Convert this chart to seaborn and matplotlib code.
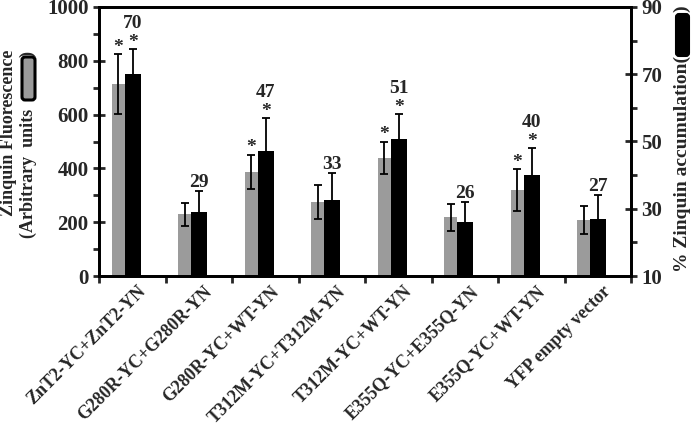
import numpy as np
import pandas as pd
import matplotlib
matplotlib.use("Agg")
import matplotlib.pyplot as plt
import seaborn as sns
from matplotlib.patches import FancyBboxPatch
from matplotlib.ticker import MultipleLocator
from matplotlib.transforms import IdentityTransform, ScaledTranslation

categories = ["ZnT2-YC+ZnT2-YN", "G280R-YC+G280R-YN", "G280R-YC+WT-YN",
              "T312M-YC+T312M-YN", "T312M-YC+WT-YN", "E355Q-YC+E355Q-YN",
              "E355Q-YC+WT-YN", "YFP empty vector"]
fluor = [714, 230, 387, 275, 439, 219, 320, 208]
fluor_err = [110, 43, 63, 63, 61, 50, 77, 52]
accum = [70.1, 29.0, 47.2, 32.6, 50.7, 26.1, 40.0, 27.0]
accum_err = [7.4, 6.3, 9.8, 8.0, 7.5, 5.9, 8.1, 7.1]
accum_labels = ["70", "29", "47", "33", "51", "26", "40", "27"]
star_gray = [True, False, True, False, True, False, True, False]
star_black = [True, False, True, False, True, False, True, False]

sns.set_style("white")
plt.rcParams['font.family'] = ['Liberation Serif', 'DejaVu Serif']
plt.rcParams['font.weight'] = 'bold'

W, H = 693, 426
fig = plt.figure(figsize=(W / 100, H / 100), dpi=100)
ax1 = fig.add_axes([99 / W, 1 - 276 / H, (631 - 99) / W, (276 - 7) / H])
ax2 = ax1.twinx()

df = pd.DataFrame({"cat": categories, "fluor": fluor, "accum": accum})

GRAY = "#9b9b9b"
sns.barplot(data=df, x="cat", y="fluor", color=GRAY, ax=ax1, width=0.2,
            saturation=1, errorbar=None)
sns.barplot(data=df, x="cat", y="accum", color="black", ax=ax2, width=0.24,
            saturation=1, errorbar=None)

gw, bw = 0.2, 0.24
goff, boff = -0.21, 0.007
for p in ax1.patches:
    c = p.get_x() + p.get_width() / 2
    p.set_width(gw)
    p.set_x(c + goff - gw / 2)
    p.set_edgecolor("none")
for p in ax2.patches:
    c = p.get_x() + p.get_width() / 2
    p.set_width(bw)
    p.set_x(c + boff - bw / 2)
    p.set_edgecolor("none")

xs = np.arange(len(categories))
ax1.errorbar(xs + goff, fluor, yerr=fluor_err, fmt="none", ecolor="black",
             elinewidth=1.3, capsize=2.8, capthick=1.3, zorder=5)
ax2.errorbar(xs + boff, accum, yerr=accum_err, fmt="none", ecolor="black",
             elinewidth=1.3, capsize=2.8, capthick=1.3, zorder=5)

ax1.set_ylim(0, 1000)
ax2.set_ylim(10, 90)
ax1.set_xlim(-0.5, 7.5)

# annotations
for i in range(len(categories)):
    top_b = accum[i] + accum_err[i]
    if star_black[i]:
        ax2.annotate("*", (xs[i] + boff, top_b), xytext=(0, -1.5), textcoords="offset points",
                     ha="center", va="bottom", fontsize=14, fontweight="bold")
        ax2.annotate(accum_labels[i], (xs[i] + boff, top_b), xytext=(0, 12),
                     textcoords="offset points", ha="center", va="bottom",
                     fontsize=14, fontweight="bold")
    else:
        ax2.annotate(accum_labels[i], (xs[i] + boff, top_b), xytext=(0, 0),
                     textcoords="offset points", ha="center", va="bottom",
                     fontsize=14, fontweight="bold")
    if star_gray[i]:
        top_g = fluor[i] + fluor_err[i]
        ax1.annotate("*", (xs[i] + goff, top_g), xytext=(0, -1), textcoords="offset points",
                     ha="center", va="bottom", fontsize=14, fontweight="bold")

# axes styling
for ax in (ax1, ax2):
    for s in ax.spines.values():
        s.set_linewidth(2)
        s.set_color("black")
    ax.set_xlabel("")
    ax.set_ylabel("")
    ax.grid(False)

ax1.yaxis.set_major_locator(MultipleLocator(200))
ax1.yaxis.set_minor_locator(MultipleLocator(100))
ax2.set_yticks([10, 30, 50, 70, 90])
ax2.set_yticks([20, 40, 60, 80], minor=True)

ax1.tick_params(axis="y", which="major", direction="inout", length=9, width=2,
                labelsize=15, pad=3)
ax1.tick_params(axis="y", which="minor", direction="out", length=4.5, width=2, left=True)
ax2.tick_params(axis="y", which="major", direction="inout", length=9, width=2,
                labelsize=15, pad=3)
ax2.tick_params(axis="y", which="minor", direction="out", length=4.5, width=2, right=True)

ax1.set_xticks(xs)
ax1.set_xticklabels(categories, rotation=45, ha="right", rotation_mode="anchor",
                    fontsize=13, fontweight="bold")
ax1.tick_params(axis="x", which="major", length=0, pad=5)
shift = ScaledTranslation(3.5 / 72, 0, fig.dpi_scale_trans)
for lab in ax1.get_xticklabels():
    lab.set_transform(lab.get_transform() + shift)
ax1.set_xticks(np.arange(-0.5, 8, 1), minor=True)
ax1.tick_params(axis="x", which="minor", direction="out", length=5, width=2, bottom=True)
for lab in ax1.get_yticklabels() + ax2.get_yticklabels():
    lab.set_fontweight("bold")
ax2.xaxis.set_visible(False)

# left label with embedded legend box
def fy(py):
    return 1 - py / H

fig.text(9 / W, fy(133), "Zinquin Fluorescence", rotation=90, ha="center", va="center",
         fontsize=13, fontweight="bold")
fig.text(28 / W, fy(238), "(Arbitrary  units", rotation=90, ha="center", va="bottom",
         fontsize=13, fontweight="bold")
fig.text(28 / W, fy(57), ")", rotation=90, ha="center", va="bottom",
         fontsize=13, fontweight="bold")
fig.patches.append(FancyBboxPatch((22, H - 100), 13, 43,
                                  boxstyle="round,pad=0,rounding_size=3",
                                  transform=IdentityTransform(), facecolor=GRAY,
                                  edgecolor="black", linewidth=2.2))

# right label with embedded legend box
fig.text(682 / W, fy(272), "% Zinquin accumulation(", rotation=90, ha="center", va="bottom",
         fontsize=14, fontweight="bold")
fig.text(682 / W, fy(12), ")", rotation=90, ha="center", va="bottom",
         fontsize=14, fontweight="bold")
fig.patches.append(FancyBboxPatch((676, H - 56), 13, 42,
                                  boxstyle="round,pad=0,rounding_size=3",
                                  transform=IdentityTransform(), facecolor="black",
                                  edgecolor="black", linewidth=1.5))

fig.savefig("out.png", dpi=100)
